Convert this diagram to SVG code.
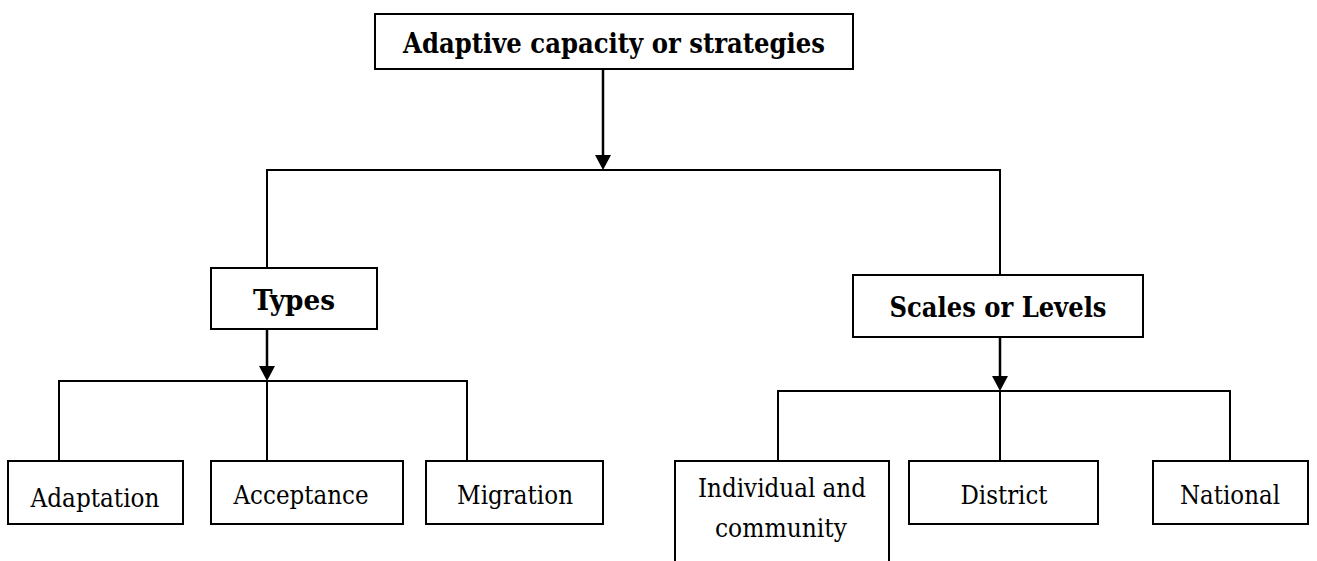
<svg xmlns="http://www.w3.org/2000/svg" width="1317" height="561" viewBox="0 0 1317 561">
<defs>
<style>
.box{fill:#fff;stroke:#000;stroke-width:2}
.ln{fill:none;stroke:#000;stroke-width:2}
.ar{fill:none;stroke:#000;stroke-width:2.5}
.b{font-family:'DejaVu Serif','Liberation Serif',serif;font-weight:bold;font-size:28px;text-anchor:middle;fill:#000}
.r{font-family:'DejaVu Serif','Liberation Serif',serif;font-size:25.5px;text-anchor:middle;fill:#000}
</style>
</defs>
<rect width="1317" height="561" fill="#fff"/>
<g id="connectors">
<line class="ar" x1="603" y1="69" x2="603" y2="155"/>
<path d="M595,155 L611,155 L603,170 Z" fill="#000"/>
<polyline class="ln" points="267,268 267,170 1000,170 1000,275"/>
<line class="ar" x1="267" y1="329" x2="267" y2="366"/>
<path d="M259,366 L275,366 L267,381 Z" fill="#000"/>
<polyline class="ln" points="59,461 59,381 467,381 467,461"/>
<line class="ln" x1="267" y1="381" x2="267" y2="461"/>
<line class="ar" x1="1000" y1="337" x2="1000" y2="376"/>
<path d="M992,376 L1008,376 L1000,391 Z" fill="#000"/>
<polyline class="ln" points="778,461 778,391 1230,391 1230,461"/>
<line class="ln" x1="1000" y1="391" x2="1000" y2="461"/>
</g>
<g id="root">
<rect class="box" x="375" y="14" width="478" height="55"/>
<text class="b" x="614" y="53" textLength="422" lengthAdjust="spacingAndGlyphs">Adaptive capacity or strategies</text>
</g>
<g id="types">
<rect class="box" x="211" y="268" width="166" height="61"/>
<text class="b" x="294" y="310" textLength="82" lengthAdjust="spacingAndGlyphs">Types</text>
</g>
<g id="scales">
<rect class="box" x="853" y="275" width="290" height="62"/>
<text class="b" x="998" y="317" textLength="217" lengthAdjust="spacingAndGlyphs">Scales or Levels</text>
</g>
<g id="adaptation">
<rect class="box" x="8" y="461" width="175" height="63"/>
<text class="r" x="95" y="507" textLength="129" lengthAdjust="spacingAndGlyphs">Adaptation</text>
</g>
<g id="acceptance">
<rect class="box" x="211" y="461" width="192" height="63"/>
<text class="r" x="301" y="504" textLength="135" lengthAdjust="spacingAndGlyphs">Acceptance</text>
</g>
<g id="migration">
<rect class="box" x="426" y="461" width="177" height="63"/>
<text class="r" x="515" y="504" textLength="116" lengthAdjust="spacingAndGlyphs">Migration</text>
</g>
<g id="individual">
<rect class="box" x="675" y="461" width="214" height="120"/>
<text class="r" x="782" y="497" textLength="168" lengthAdjust="spacingAndGlyphs">Individual and</text>
<text class="r" x="781" y="537" textLength="132" lengthAdjust="spacingAndGlyphs">community</text>
</g>
<g id="district">
<rect class="box" x="909" y="461" width="189" height="63"/>
<text class="r" x="1004" y="504" textLength="87" lengthAdjust="spacingAndGlyphs">District</text>
</g>
<g id="national">
<rect class="box" x="1153" y="461" width="155" height="63"/>
<text class="r" x="1230" y="504" textLength="100" lengthAdjust="spacingAndGlyphs">National</text>
</g>
</svg>
